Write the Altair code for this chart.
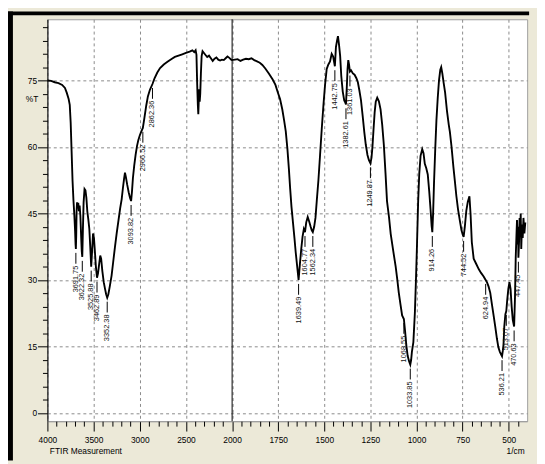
import altair as alt
import pandas as pd

# ---- spectrum (wavenumber 1/cm, %T) ----
wavenumber = [4000, 3960, 3920, 3880, 3840, 3810, 3790, 3770, 3758, 3748, 3738, 3728, 3718, 3708, 3700, 3695,
              3691.75, 3688, 3684, 3679, 3673, 3666, 3659, 3651, 3643, 3635, 3628, 3622.32, 3616, 3608, 3598,
              3588, 3578, 3568, 3556, 3546, 3536, 3525.88, 3516, 3506, 3496, 3486, 3475, 3462.89, 3452, 3440,
              3428, 3418, 3405, 3390, 3376, 3364, 3352.38, 3340, 3325, 3305, 3288, 3270, 3250, 3230, 3212, 3196,
              3182, 3170, 3160, 3150, 3136, 3120, 3105, 3093.82, 3084, 3074, 3060, 3045, 3030, 3015, 3000, 2985,
              2966.52, 2950, 2930, 2912, 2890, 2862.36, 2840, 2810, 2780, 2740, 2700, 2660, 2620, 2580, 2540,
              2500, 2460, 2430, 2410, 2395, 2386, 2378, 2371, 2366, 2361, 2356, 2351, 2345, 2338, 2330, 2320,
              2305, 2290, 2270, 2250, 2230, 2210, 2190, 2170, 2150, 2130, 2110, 2090, 2070, 2050, 2030, 2010,
              2000, 1985, 1970, 1955, 1940, 1925, 1910, 1895, 1880, 1865, 1850, 1836, 1820, 1800, 1780, 1765,
              1752, 1740, 1728, 1718, 1709, 1700, 1692, 1685, 1678, 1670, 1662, 1655, 1647, 1639.49, 1632, 1625,
              1618, 1611, 1604.77, 1598, 1590, 1582, 1574, 1568, 1562.34, 1555, 1548, 1541, 1532, 1523, 1514,
              1505, 1496, 1487, 1478, 1469, 1460, 1452, 1446, 1442.75, 1437, 1431, 1426, 1420, 1414, 1408, 1400,
              1392, 1386, 1382.61, 1378, 1374, 1370, 1366, 1361.03, 1355, 1345, 1336, 1326, 1318, 1310, 1301,
              1292, 1283, 1275, 1266, 1258, 1249.87, 1244, 1239, 1233, 1227, 1221, 1213, 1204, 1195, 1186, 1177,
              1168, 1160, 1149, 1140, 1126, 1113, 1104, 1096, 1087, 1078, 1068.55, 1062, 1055, 1048, 1040,
              1033.85, 1029, 1025, 1017, 1009, 1003, 998, 991, 985, 978, 969, 962, 955, 947, 939, 931, 924, 918,
              914.26, 910, 905, 898, 892, 885, 878, 871, 866, 860, 853, 845, 835, 825, 819, 810, 800, 792, 784,
              775, 765, 756, 750, 744.52, 738, 730, 722, 713, 707, 700, 690, 676, 662, 650, 636, 624.94, 617, 609,
              600, 591, 582, 573, 564, 556, 548, 541, 536.21, 532, 528, 524, 518, 513.07, 508, 502, 496, 490, 484,
              478, 470.63, 466, 462, 458, 455, 452, 449, 447.45, 444, 441, 438, 435, 432, 428, 424, 420, 415, 410]
transmittance = [75.0, 74.9, 74.6, 74.4, 74.0, 73.3, 72.2, 70.8, 69.5, 65.5, 59.0, 52.5, 48.0, 44.5, 41.0, 38.0,
                 37.0, 40.0, 45.5, 47.5, 46.2, 47.4, 45.5, 46.8, 44.5, 40.0, 36.5, 35.2, 41.0, 47.5, 50.5,
                 50.2, 48.5, 45.5, 43.5, 41.5, 37.5, 33.0, 36.5, 40.5, 39.5, 36.5, 33.0, 30.5, 31.5, 33.5,
                 35.5, 34.8, 32.0, 29.5, 28.0, 26.8, 26.0, 26.8, 28.5, 31.0, 34.0, 37.2, 40.5, 43.5, 46.2, 48.2,
                 50.8, 52.8, 54.2, 53.2, 51.5, 49.8, 48.5, 47.8, 50.0, 53.0, 55.8, 58.2, 60.2, 61.6, 62.6, 63.4,
                 64.3, 66.5, 69.3, 71.4, 72.9, 74.2, 75.5, 76.8, 77.8, 78.6, 79.2, 79.8, 80.3, 80.6, 80.9,
                 81.2, 81.5, 81.8, 81.4, 81.8, 80.8, 74.0, 69.5, 67.4, 70.5, 73.0, 70.2, 72.0, 76.5, 80.5, 81.6,
                 81.2, 80.8, 80.3, 80.6, 80.0, 79.4, 79.9, 80.2, 79.7, 79.5, 79.7, 79.6, 80.0, 80.4, 80.1, 79.7,
                 79.6, 79.7, 79.8, 79.4, 79.7, 79.9, 79.8, 80.0, 79.6, 79.3, 79.0, 78.5, 77.7, 76.5, 75.2, 74.0,
                 72.3, 70.8, 68.5, 66.0, 63.5, 59.5, 55.0, 50.5, 46.5, 43.0, 39.5, 36.2, 33.0, 30.0, 33.8, 37.0,
                 39.8, 41.5, 40.8, 43.0, 44.2, 43.2, 42.0, 41.2, 40.8, 42.0, 44.0, 47.8, 52.5, 58.2, 64.0,
                 69.3, 74.0, 77.6, 78.6, 79.3, 81.0, 80.4, 79.0, 78.2, 82.5, 84.0, 85.0, 83.0, 80.5, 76.0, 72.5,
                 70.5, 70.0, 69.6, 73.5, 77.5, 79.6, 78.6, 77.0, 77.3, 76.6, 76.3, 75.5, 74.6, 72.8, 70.5,
                 67.0, 63.3, 60.5, 58.2, 57.0, 56.3, 57.6, 60.0, 64.0, 67.8, 70.2, 71.1, 70.3, 68.5, 65.0, 60.4,
                 54.0, 47.8, 44.1, 40.4, 36.5, 33.0, 30.0, 27.1, 24.5, 22.0, 21.2, 18.5, 15.2, 12.9, 11.6,
                 10.9, 12.0, 13.8, 16.0, 22.5, 30.0, 37.0, 47.8, 54.0, 58.0, 59.5, 58.6, 56.2, 55.2, 53.8, 50.0, 46.0, 42.2,
                 40.8, 45.0, 52.0, 60.0, 66.0, 71.0, 75.0, 77.4, 78.0, 76.6, 74.5, 72.3, 68.2, 65.0, 63.4, 60.0, 55.5, 52.3, 49.0,
                 46.0, 43.4, 41.2, 40.3, 39.7, 42.0, 45.6, 47.6, 48.9, 45.0, 38.5, 34.8, 33.6, 32.4, 31.6, 30.8, 30.0, 29.4, 28.5,
                 27.1, 24.5, 22.0, 19.5, 16.8, 14.8, 13.8, 13.2, 12.8, 14.0, 15.5, 19.5, 22.3, 23.0, 25.5, 28.0, 29.5, 28.0, 24.0,
                 21.0, 19.5, 26.0, 35.0, 40.0, 43.5, 38.0, 42.0, 35.0, 38.5, 44.0, 40.5, 45.0, 37.0, 42.5, 39.5, 44.0, 40.5, 43.0]

# ---- peak annotations ----
peak_labels = ["3691.75", "3622.32", "3525.88", "3462.89", "3352.38", "3093.82", "2966.52", "2862.36",
               "1639.49", "1604.77", "1562.34", "1442.75", "1382.61", "1361.03", "1249.87", "1068.55",
               "1033.85", "914.26", "744.52", "624.94", "536.21", "513.07", "470.63", "447.45"]
peak_wn = [3691.75, 3622.32, 3525.88, 3462.89, 3352.38, 3093.82, 2966.52, 2862.36,
           1639.49, 1604.77, 1562.34, 1442.75, 1382.61, 1361.03, 1249.87, 1068.55,
           1033.85, 914.26, 744.52, 624.94, 536.21, 513.07, 470.63, 447.45]
peak_t = [37.0, 35.2, 33.0, 30.5, 26.0, 47.8, 64.3, 74.2,
          30.0, 40.8, 40.8, 78.2, 69.6, 77.0, 56.3, 21.2,
          10.9, 40.8, 39.7, 30.0, 12.8, 23.0, 19.5, 35.0]

# ---- axis ticks ----
x_major = [4000, 3500, 3000, 2500, 2000, 1750, 1500, 1250, 1000, 750, 500]
x_minor = [3900, 3800, 3700, 3600, 3400, 3300, 3200, 3100, 2900, 2800, 2700, 2600, 2400, 2300, 2200, 2100,
           1950, 1900, 1850, 1800, 1700, 1650, 1600, 1550, 1450, 1400, 1350, 1300, 1200, 1150, 1100, 1050,
           950, 900, 850, 800, 700, 650, 600, 550, 450]
y_major = [0, 15, 30, 45, 60, 75]
y_minor = [3, 6, 9, 12, 18, 21, 24, 27, 33, 36, 39, 42, 48, 51, 54, 57, 63, 66, 69, 72, 78, 81, 84, 87]
scale_break = [2000]

spec = pd.DataFrame({"wn": wavenumber, "t": transmittance})
peaks = pd.DataFrame({"wn": peak_wn, "t": peak_t, "label": peak_labels})
brk = pd.DataFrame({"wn": scale_break})

W, H = 487, 408
FONT = "Liberation Sans"
xs = alt.Scale(domain=[4000, 2000, 400], range=[0, 187.5, W], nice=False, zero=False)
ys = alt.Scale(domain=[-1.85, 88.8], nice=False, zero=False)

main_x = alt.Axis(orient="bottom", values=x_major, format="d", tickSize=10, tickColor="black",
                  domainColor="#9a9a9a",
                  grid=True, gridDash=[3, 3], gridColor="#8a8a8a", gridWidth=1,
                  labelFont=FONT, labelFontSize=8.5, labelColor="black", labelPadding=5,
                  labelFlush=False, labelOverlap=False,
                  title="FTIR Measurement", titleFont=FONT, titleFontSize=8.5, titleFontWeight="normal",
                  titleColor="black", titleAnchor="start", titleAlign="left", titleX=2, titleY=30,
                  titleBaseline="middle")
main_y = alt.Axis(orient="left", values=y_major, tickSize=10, tickColor="black", domainColor="black",
                  grid=True, gridDash=[3, 3], gridColor="#8a8a8a", gridWidth=1,
                  labelFont=FONT, labelFontSize=8.5, labelColor="black", labelPadding=1,
                  title="%T", titleFont=FONT, titleFontSize=8.5, titleFontWeight="normal", titleColor="black",
                  titleAngle=0, titleX=-16, titleY=80, titleAlign="center", titleBaseline="middle")
minor_x = alt.Axis(orient="bottom", values=x_minor, labels=False, tickSize=5, tickColor="black",
                   domain=False, grid=False,
                   title="1/cm", titleFont=FONT, titleFontSize=8.5, titleFontWeight="normal",
                   titleColor="black", titleAnchor="end", titleAlign="right", titleX=W - 3, titleY=30,
                   titleBaseline="middle")
minor_y = alt.Axis(orient="left", values=y_minor, labels=False, tickSize=5, tickColor="black",
                   domain=False, grid=False, title=None)

line = alt.Chart(spec).mark_line(color="black", strokeWidth=1.9, clip=True).encode(
    x=alt.X("wn:Q", scale=xs, axis=main_x),
    y=alt.Y("t:Q", scale=ys, axis=main_y),
    order=alt.Order("wn:Q", sort="descending"),
)
minor = alt.Chart(spec).mark_line(opacity=0).encode(
    x=alt.X("wn:Q", scale=xs, axis=minor_x),
    y=alt.Y("t:Q", scale=ys, axis=minor_y),
)
break_rule = alt.Chart(brk).mark_rule(color="black", strokeWidth=1).encode(
    x=alt.X("wn:Q", axis=None))
leaders = alt.Chart(peaks).mark_rule(color="black", strokeWidth=1, yOffset=4, y2Offset=15).encode(
    x=alt.X("wn:Q", axis=None), y=alt.Y("t:Q", axis=None), y2="t:Q")
texts = alt.Chart(peaks).mark_text(angle=270, align="right", baseline="middle", yOffset=17,
                                   font=FONT, fontSize=7.5, color="#111111").encode(
    x=alt.X("wn:Q", axis=None), y=alt.Y("t:Q", axis=None), text="label:N")

frame = pd.DataFrame({"k": [0]})
top_band = alt.Chart(frame).mark_rect(color="black").encode(
    x=alt.value(-40), x2=alt.value(W + 2), y=alt.value(-8), y2=alt.value(-4))
left_band = alt.Chart(frame).mark_rect(color="black").encode(
    x=alt.value(-40), x2=alt.value(-35), y=alt.value(-8), y2=alt.value(H + 40))

chart = alt.layer(line, minor, break_rule, leaders, texts, top_band, left_band).resolve_axis(
    x="independent", y="independent"
).properties(
    width=W, height=H,
    autosize=alt.AutoSizeParams(type="none"),
    padding={"left": 40, "top": 8, "right": 10, "bottom": 40},
).configure(background="#ECE9D8").configure_view(fill="white", stroke="#a0a0a0", strokeWidth=1)

chart.save("out.html", embed_options={"renderer": "svg", "actions": False})
